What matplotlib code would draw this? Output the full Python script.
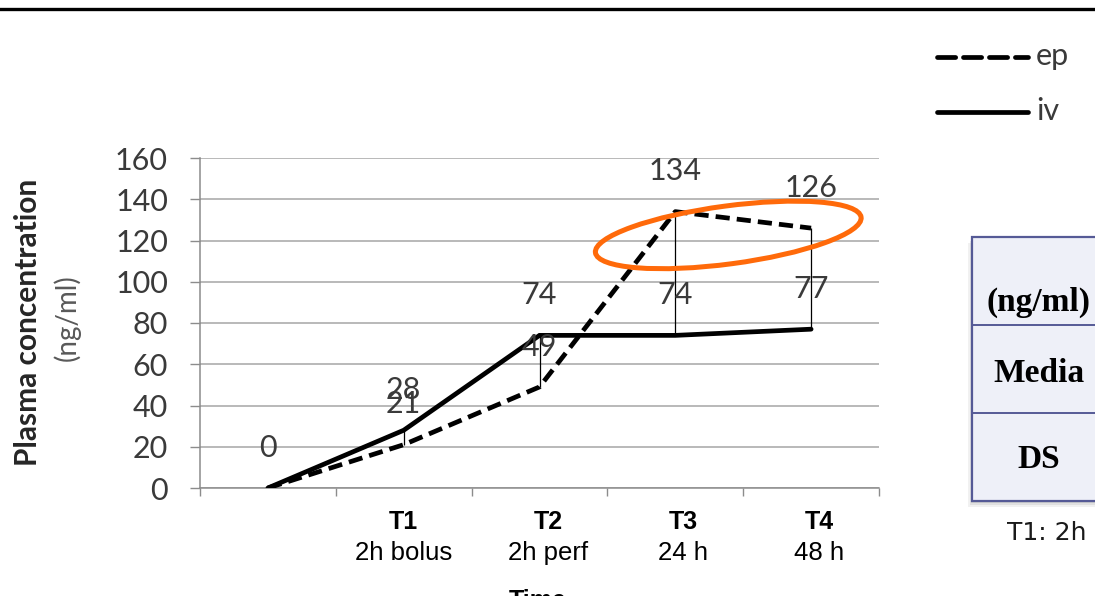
import matplotlib
matplotlib.use("Agg")
import matplotlib.pyplot as plt
from matplotlib.patches import Ellipse, Rectangle
from matplotlib.lines import Line2D
from matplotlib.transforms import IdentityTransform

# ---- data ----
categories = ["", "T1", "T2", "T3", "T4"]
subtitles = ["", "2h bolus", "2h perf", "24 h", "48 h"]
ep_values = [0, 21, 49, 134, 126]
iv_values = [0, 28, 74, 74, 77]
y_ticks = [0, 20, 40, 60, 80, 100, 120, 140, 160]
table_rows = ["(ng/ml)", "Media", "DS"]

W, H = 1095, 596
fig = plt.figure(figsize=(W / 100, H / 100), dpi=100)
fig.patch.set_facecolor("white")

def fx(px):
    return px / W

def fy(py):
    return 1 - py / H

# top rule
fig.add_artist(Line2D([0, 1], [fy(9), fy(9)], color="black", lw=2.4, transform=fig.transFigure))

ax = fig.add_axes([fx(200), 108 / H, 679 / W, 330 / H])
x = list(range(len(categories)))
grey = "#8c8c8c"
tick_font = dict(family="Lato", size=22, color="#3a3a3a")

ax.set_xlim(-0.5, len(categories) - 0.5)
ax.set_ylim(0, 160)
ax.set_yticks(y_ticks)
ax.set_yticklabels([str(v) for v in y_ticks], fontdict=tick_font)
ax.tick_params(axis="y", length=7, width=1, color=grey, pad=16, direction="out")
ax.yaxis.grid(True, color="#a6a6a6", lw=1.1)
ax.set_axisbelow(True)
ax.set_xticks([i - 0.5 for i in range(len(categories) + 1)])
ax.set_xticklabels([])
ax.tick_params(axis="x", length=6, width=1, color=grey, direction="out")
for s in ["top", "right"]:
    ax.spines[s].set_visible(False)
ax.spines["left"].set_color(grey)
ax.spines["bottom"].set_color(grey)
ax.spines["left"].set_linewidth(1.1)
ax.spines["bottom"].set_linewidth(1.1)

# high-low lines
for xi, a, b in zip(x, ep_values, iv_values):
    if a != b:
        ax.vlines(xi, min(a, b), max(a, b), color="black", lw=0.9, zorder=3)

ax.plot(x, iv_values, color="black", lw=3.4, solid_joinstyle="miter", solid_capstyle="round", zorder=4)
ax.plot(x, ep_values, color="black", lw=3.4, ls=(0, (3.0, 1.5)), dash_capstyle="butt", zorder=4)

# data labels
for xi, v in zip(x, iv_values):
    ax.annotate(str(v), (xi, v), xytext=(0, 29), textcoords="offset points",
                ha="center", va="center", **tick_font, zorder=5)
for xi, v, iv in zip(x, ep_values, iv_values):
    if v == iv:
        continue
    ax.annotate(str(v), (xi, v), xytext=(0, 29), textcoords="offset points",
                ha="center", va="center", **tick_font, zorder=5)

# category labels
label_shift = [0, 0, 0.065, 0.06, 0.06]
for xi, c, s, sh in zip(x, categories, subtitles, label_shift):
    if not c:
        continue
    xd = ax.transData.transform((xi + sh, 0))[0]
    fig.text(xd / W, fy(522), c, ha="center", va="center", family="Liberation Sans",
             weight="bold", size=18, color="black")
    fig.text(xd / W, fy(553), s, ha="center", va="center", family="Liberation Sans",
             size=18.5, color="black")
fig.text(fx(538), fy(589), "Time", ha="center", va="top", family="Liberation Sans",
         weight="bold", size=18, color="black")

# y label
fig.text(fx(28), fy(322), "Plasma concentration", rotation=90, ha="center", va="center",
         family="Lato", weight="bold", size=21.5, color="#262626")
fig.text(fx(67), fy(318), "(ng/ml)", rotation=90, ha="center", va="center",
         family="Lato", size=20, color="#595959")

# highlight ellipse
cx, cy = ax.transData.transform((3.39, 122.7))
ax.add_patch(Ellipse((cx, cy), 268, 58, angle=7.6, transform=IdentityTransform(),
                     fill=False, ec="#FF6A0A", lw=3.6, clip_on=False, zorder=6))

# legend (manual)
fig.add_artist(Line2D([fx(937), fx(1028)], [fy(57), fy(57)], color="black", lw=3.4,
                      ls=(0, (3.85, 1.65)), dash_capstyle="round", transform=fig.transFigure))
fig.add_artist(Line2D([fx(937), fx(1028)], [fy(112), fy(112)], color="black", lw=3.4,
                      solid_capstyle="round", transform=fig.transFigure))
fig.text(fx(1036), fy(56), "ep", ha="left", va="center", **tick_font)
fig.text(fx(1036), fy(111), "iv", ha="left", va="center", **tick_font)

# table (partially visible)
tx0, ty0, ty1 = 972, 237, 501
row_edges = [237, 325, 413, 501]
# shadow
for off, al in [(6, 0.10), (4, 0.15), (2, 0.2)]:
    fig.add_artist(Rectangle((fx(tx0 - off * 0.6), fy(ty1 + off)), fx(1100) - fx(tx0 - off * 0.6),
                             fy(ty0 + off) - fy(ty1 + off), transform=fig.transFigure,
                             fc="#7f7f7f", ec="none", alpha=al))
fig.add_artist(Rectangle((fx(tx0), fy(ty1)), fx(1100) - fx(tx0), fy(ty0) - fy(ty1),
                         transform=fig.transFigure, fc="#eef0f8", ec="#555a96", lw=1.6))
for e in row_edges[1:-1]:
    fig.add_artist(Line2D([fx(tx0), 1], [fy(e), fy(e)], color="#555a96", lw=1.4,
                          transform=fig.transFigure))
row_centers = [302, 373, 459]
for r, yc in zip(table_rows, row_centers):
    fig.text(fx(1039), fy(yc), r, ha="center", va="center", family="Liberation Serif",
             weight="bold", size=24, color="black")
fig.text(fx(1047), fy(533), "T1: 2h", ha="center", va="center", family="DejaVu Sans",
         size=18, color="#1a1a1a")

fig.savefig("out.png", dpi=100, facecolor="white")
